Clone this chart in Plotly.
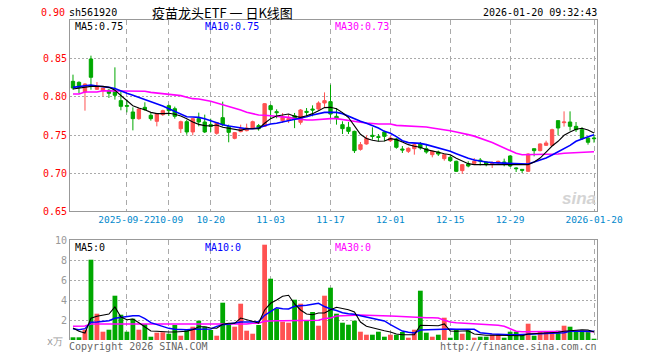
import plotly.graph_objects as go

# ---------------- data ----------------
dates = [
    "2025-09-09", "2025-09-10", "2025-09-11", "2025-09-12", "2025-09-15", "2025-09-16", "2025-09-17", "2025-09-18",
    "2025-09-19", "2025-09-22", "2025-09-23", "2025-09-24", "2025-09-25", "2025-09-26", "2025-09-29", "2025-09-30",
    "2025-10-09", "2025-10-10", "2025-10-13", "2025-10-14", "2025-10-15", "2025-10-16", "2025-10-17", "2025-10-20",
    "2025-10-21", "2025-10-22", "2025-10-23", "2025-10-24", "2025-10-27", "2025-10-28", "2025-10-29", "2025-10-30",
    "2025-10-31", "2025-11-03", "2025-11-04", "2025-11-05", "2025-11-06", "2025-11-07", "2025-11-10", "2025-11-11",
    "2025-11-12", "2025-11-13", "2025-11-14", "2025-11-17", "2025-11-18", "2025-11-19", "2025-11-20", "2025-11-21",
    "2025-11-24", "2025-11-25", "2025-11-26", "2025-11-27", "2025-11-28", "2025-12-01", "2025-12-02", "2025-12-03",
    "2025-12-04", "2025-12-05", "2025-12-08", "2025-12-09", "2025-12-10", "2025-12-11", "2025-12-12", "2025-12-15",
    "2025-12-16", "2025-12-17", "2025-12-18", "2025-12-19", "2025-12-22", "2025-12-23", "2025-12-24", "2025-12-25",
    "2025-12-26", "2025-12-29", "2025-12-30", "2025-12-31", "2026-01-05", "2026-01-06", "2026-01-07", "2026-01-08",
    "2026-01-09", "2026-01-12", "2026-01-13", "2026-01-14", "2026-01-15", "2026-01-16", "2026-01-19", "2026-01-20",
]

open_ = [
    0.8206, 0.8193, 0.8066, 0.8500, 0.8101, 0.8083, 0.8088, 0.8070, 0.7952, 0.7888, 0.7803, 0.7715, 0.7864, 0.7759, 0.7680, 0.7768,
    0.7886, 0.7846, 0.7583, 0.7675, 0.7540, 0.7715, 0.7671, 0.7636, 0.7522, 0.7728, 0.7610, 0.7456, 0.7544, 0.7557, 0.7592, 0.7623,
    0.7614, 0.7886, 0.7807, 0.7689, 0.7693, 0.7754, 0.7667, 0.7811, 0.7842, 0.7842, 0.7921, 0.7939, 0.7746, 0.7636, 0.7601, 0.7548,
    0.7311, 0.7382, 0.7496, 0.7478, 0.7540, 0.7425, 0.7447, 0.7316, 0.7285, 0.7320, 0.7386, 0.7320, 0.7241, 0.7276, 0.7189, 0.7206,
    0.7154, 0.7031, 0.7118, 0.7127, 0.7171, 0.7145, 0.7123, 0.7132, 0.7145, 0.7224, 0.7066, 0.7048, 0.7022, 0.7320, 0.7294, 0.7364,
    0.7364, 0.7689, 0.7662, 0.7671, 0.7614, 0.7570, 0.7461, 0.7461,
]
high = [
    0.8294, 0.8206, 0.8180, 0.8544, 0.8197, 0.8120, 0.8105, 0.8390, 0.8075, 0.7965, 0.7864, 0.7855, 0.7930, 0.7790, 0.7790, 0.7833,
    0.7900, 0.7873, 0.7689, 0.7700, 0.7724, 0.7794, 0.7768, 0.7715, 0.7671, 0.7939, 0.7636, 0.7540, 0.7636, 0.7649, 0.7689, 0.7645,
    0.7920, 0.7900, 0.7838, 0.7789, 0.7768, 0.7790, 0.7842, 0.7855, 0.7890, 0.7943, 0.8061, 0.8162, 0.7855, 0.7680, 0.7671, 0.7557,
    0.7408, 0.7496, 0.7601, 0.7513, 0.7557, 0.7487, 0.7460, 0.7355, 0.7338, 0.7395, 0.7408, 0.7382, 0.7294, 0.7294, 0.7250, 0.7232,
    0.7162, 0.7118, 0.7154, 0.7197, 0.7197, 0.7154, 0.7154, 0.7162, 0.7189, 0.7232, 0.7075, 0.7048, 0.7259, 0.7320, 0.7390, 0.7425,
    0.7583, 0.7689, 0.7811, 0.7811, 0.7671, 0.7601, 0.7469, 0.7504,
]
low = [
    0.8096, 0.8050, 0.7820, 0.8096, 0.8092, 0.8010, 0.7987, 0.7965, 0.7825, 0.7798, 0.7561, 0.7700, 0.7820, 0.7689, 0.7614, 0.7750,
    0.7750, 0.7715, 0.7526, 0.7504, 0.7496, 0.7614, 0.7526, 0.7540, 0.7504, 0.7614, 0.7404, 0.7443, 0.7535, 0.7548, 0.7583, 0.7557,
    0.7605, 0.7715, 0.7720, 0.7658, 0.7658, 0.7590, 0.7636, 0.7746, 0.7746, 0.7829, 0.7855, 0.7715, 0.7636, 0.7513, 0.7513, 0.7263,
    0.7294, 0.7373, 0.7439, 0.7417, 0.7417, 0.7408, 0.7320, 0.7263, 0.7263, 0.7241, 0.7307, 0.7254, 0.7206, 0.7224, 0.7162, 0.7145,
    0.7013, 0.6987, 0.7075, 0.7110, 0.7100, 0.7088, 0.7066, 0.7110, 0.7088, 0.7079, 0.7013, 0.7000, 0.7013, 0.7219, 0.7285, 0.7355,
    0.7355, 0.7496, 0.7610, 0.7557, 0.7540, 0.7434, 0.7373, 0.7399,
]
close = [
    0.8118, 0.8127, 0.8171, 0.8259, 0.8145, 0.8118, 0.8048, 0.8022, 0.7877, 0.7879, 0.7715, 0.7842, 0.7833, 0.7715, 0.7776, 0.7820,
    0.7820, 0.7746, 0.7675, 0.7540, 0.7715, 0.7671, 0.7540, 0.7614, 0.7662, 0.7636, 0.7535, 0.7531, 0.7583, 0.7592, 0.7675, 0.7583,
    0.7912, 0.7833, 0.7794, 0.7732, 0.7715, 0.7715, 0.7829, 0.7798, 0.7829, 0.7921, 0.7952, 0.7776, 0.7715, 0.7583, 0.7548, 0.7294,
    0.7373, 0.7456, 0.7482, 0.7469, 0.7482, 0.7460, 0.7338, 0.7303, 0.7325, 0.7373, 0.7329, 0.7276, 0.7285, 0.7250, 0.7241, 0.7162,
    0.7022, 0.7110, 0.7092, 0.7154, 0.7158, 0.7110, 0.7136, 0.7154, 0.7132, 0.7092, 0.7057, 0.7035, 0.7250, 0.7294, 0.7382, 0.7395,
    0.7570, 0.7592, 0.7671, 0.7614, 0.7570, 0.7452, 0.7404, 0.7452,
]

ma5 = [
    0.8105, 0.8118, 0.8136, 0.8140, 0.8140, 0.8140, 0.8127, 0.8090, 0.8020, 0.7950, 0.7885, 0.7855, 0.7833, 0.7798, 0.7781, 0.7781,
    0.7785, 0.7772, 0.7750, 0.7715, 0.7671, 0.7640, 0.7623, 0.7618, 0.7632, 0.7601, 0.7588, 0.7566, 0.7561, 0.7583, 0.7583, 0.7583,
    0.7654, 0.7715, 0.7750, 0.7763, 0.7776, 0.7746, 0.7732, 0.7754, 0.7781, 0.7820, 0.7860, 0.7864, 0.7846, 0.7794, 0.7730, 0.7620,
    0.7510, 0.7455, 0.7430, 0.7417, 0.7421, 0.7452, 0.7439, 0.7408, 0.7373, 0.7351, 0.7338, 0.7307, 0.7285, 0.7272, 0.7254, 0.7241,
    0.7193, 0.7154, 0.7123, 0.7110, 0.7110, 0.7110, 0.7114, 0.7118, 0.7118, 0.7114, 0.7110, 0.7110, 0.7110, 0.7145, 0.7197, 0.7276,
    0.7355, 0.7417, 0.7496, 0.7540, 0.7575, 0.7588, 0.7566, 0.7526,
]
ma10 = [
    0.8127, 0.8140, 0.8154, 0.8158, 0.8145, 0.8140, 0.8127, 0.8110, 0.8075, 0.8048, 0.8022, 0.7996, 0.7965, 0.7943, 0.7912, 0.7882,
    0.7846, 0.7811, 0.7768, 0.7741, 0.7737, 0.7732, 0.7715, 0.7689, 0.7654, 0.7636, 0.7618, 0.7605, 0.7596, 0.7583, 0.7583, 0.7592,
    0.7623, 0.7645, 0.7654, 0.7671, 0.7680, 0.7697, 0.7719, 0.7741, 0.7763, 0.7785, 0.7798, 0.7798, 0.7798, 0.7781, 0.7746, 0.7706,
    0.7680, 0.7654, 0.7627, 0.7592, 0.7548, 0.7522, 0.7478, 0.7425, 0.7400, 0.7395, 0.7390, 0.7373, 0.7351, 0.7333, 0.7307, 0.7285,
    0.7254, 0.7219, 0.7193, 0.7171, 0.7154, 0.7145, 0.7136, 0.7132, 0.7127, 0.7123, 0.7118, 0.7114, 0.7118, 0.7145, 0.7171, 0.7197,
    0.7237, 0.7276, 0.7320, 0.7364, 0.7417, 0.7452, 0.7478, 0.7504,
]
ma30 = [
    0.8040, 0.8040, 0.8066, 0.8066, 0.8066, 0.8083, 0.8083, 0.8083, 0.8083, 0.8079, 0.8079, 0.8079, 0.8075, 0.8061, 0.8053, 0.8044,
    0.8040, 0.8035, 0.8018, 0.7996, 0.7978, 0.7974, 0.7961, 0.7943, 0.7921, 0.7899, 0.7873, 0.7855, 0.7829, 0.7798, 0.7776, 0.7763,
    0.7759, 0.7754, 0.7750, 0.7741, 0.7732, 0.7715, 0.7702, 0.7697, 0.7697, 0.7702, 0.7715, 0.7715, 0.7715, 0.7702, 0.7684, 0.7680,
    0.7667, 0.7658, 0.7649, 0.7645, 0.7645, 0.7645, 0.7627, 0.7623, 0.7614, 0.7610, 0.7610, 0.7605, 0.7592, 0.7583, 0.7570, 0.7555,
    0.7540, 0.7526, 0.7505, 0.7485, 0.7460, 0.7430, 0.7400, 0.7365, 0.7330, 0.7295, 0.7260, 0.7241, 0.7241, 0.7241, 0.7241, 0.7241,
    0.7241, 0.7250, 0.7259, 0.7263, 0.7268, 0.7272, 0.7276, 0.7280,
]

volume = [
    0.27, 0.27, 1.03, 8.03, 2.63, 0.83, 1.03, 4.43, 2.53, 0.83, 2.13, 1.03, 1.60, 0.33, 0.73, 0.77,
    0.63, 1.50, 0.43, 1.10, 1.33, 1.93, 1.33, 1.00, 0.43, 3.73, 1.60, 1.33, 3.63, 0.93, 0.63, 1.50,
    9.53, 6.13, 3.13, 1.83, 1.73, 4.03, 3.63, 2.00, 2.80, 1.43, 4.43, 5.23, 2.63, 1.73, 1.53, 1.93,
    0.83, 0.53, 0.53, 0.83, 0.33, 0.53, 0.53, 0.80, 0.23, 1.03, 4.93, 0.73, 0.33, 0.53, 2.23, 0.23,
    1.03, 0.63, 0.97, 0.23, 0.33, 0.33, 0.53, 0.53, 0.23, 0.83, 0.83, 0.53, 1.63, 0.43, 0.83, 0.83,
    0.83, 0.93, 1.43, 1.33, 0.93, 0.93, 0.93, 0.13,
]
vma5 = [
    1.20, 0.87, 0.70, 2.17, 2.37, 2.50, 2.60, 3.30, 2.30, 2.03, 2.10, 1.73, 1.27, 0.90, 0.87, 0.80,
    0.80, 0.80, 0.83, 0.87, 1.03, 1.33, 1.33, 1.20, 1.17, 1.57, 1.67, 1.67, 2.20, 2.03, 1.80, 1.70,
    3.00, 3.67, 4.00, 4.37, 4.47, 3.60, 3.00, 2.60, 2.53, 2.70, 2.70, 3.03, 3.27, 3.13, 3.03, 2.80,
    1.80, 1.37, 1.20, 1.10, 0.93, 0.80, 0.60, 0.53, 0.53, 0.53, 1.47, 1.47, 1.47, 1.43, 1.60, 0.90,
    0.87, 0.87, 0.93, 0.60, 0.50, 0.47, 0.47, 0.47, 0.43, 0.43, 0.43, 0.43, 0.60, 0.63, 0.67, 0.67,
    0.70, 0.77, 0.87, 0.93, 1.03, 1.03, 1.00, 0.80,
]
vma10 = [
    1.13, 1.03, 1.13, 1.77, 1.80, 1.83, 1.93, 2.17, 2.27, 2.37, 2.43, 2.43, 2.13, 1.73, 1.53, 1.30,
    1.17, 1.07, 1.03, 1.03, 1.07, 1.10, 1.10, 1.10, 1.37, 1.53, 1.60, 1.70, 1.80, 1.80, 1.80, 1.83,
    2.47, 2.87, 3.23, 3.13, 3.10, 3.37, 3.40, 3.47, 3.57, 3.67, 3.35, 3.10, 2.95, 2.73, 2.63, 2.57,
    2.43, 2.30, 2.17, 2.07, 1.90, 1.53, 1.20, 0.90, 0.77, 0.70, 1.00, 1.03, 1.03, 1.07, 1.13, 1.10,
    1.07, 1.07, 1.10, 1.07, 0.73, 0.63, 0.60, 0.57, 0.53, 0.53, 0.53, 0.53, 0.53, 0.60, 0.63, 0.67,
    0.70, 0.73, 0.73, 0.87, 0.90, 0.87, 0.87, 0.87,
]
vma30 = [
    1.37, 1.37, 1.40, 1.60, 1.60, 1.60, 1.60, 1.60, 1.60, 1.60, 1.60, 1.60, 1.60, 1.53, 1.53, 1.53,
    1.53, 1.53, 1.53, 1.53, 1.53, 1.53, 1.53, 1.53, 1.53, 1.60, 1.60, 1.60, 1.60, 1.60, 1.67, 1.67,
    1.87, 1.93, 1.93, 1.93, 1.93, 1.93, 1.93, 1.97, 1.97, 1.97, 2.15, 2.20, 2.40, 2.43, 2.47, 2.50,
    2.50, 2.47, 2.47, 2.43, 2.43, 2.40, 2.37, 2.33, 2.30, 2.27, 2.27, 2.23, 2.23, 2.20, 1.97, 1.80,
    1.73, 1.70, 1.67, 1.63, 1.60, 1.57, 1.53, 1.47, 1.37, 1.10, 0.87, 0.83, 0.83, 0.83, 0.80, 0.80,
    0.83, 0.83, 0.87, 0.87, 0.90, 0.90, 0.87, 0.83,
]

tick_dates = ["2025-09-22", "2025-10-09", "2025-10-20", "2025-11-03", "2025-11-17",
              "2025-12-01", "2025-12-15", "2025-12-29", "2026-01-20"]
tick_labels = ["2025-09-22", "10-09", "10-20", "11-03", "11-17", "12-01", "12-15", "12-29", "2026-01-20"]
price_ticks = [0.65, 0.70, 0.75, 0.80, 0.85]
price_tick_labels = ["0.65", "0.70", "0.75", "0.80", "0.85"]
vol_ticks = [2, 4, 6, 8, 10]
vol_tick_labels = ["2", "4", "6", "8", "10"]

# ---------------- style ----------------
W, H = 660, 360
L, R, T, B = 70, 597, 20, 340
RED = "#FF5252"
GREEN = "#00A800"
MONO = "DejaVu Sans Mono"
GRID = "#AAAAAA"
FRAME = "#999999"


def px(x):
    return (x - L) / (R - L)


def py(y):
    return (B - y) / (B - T)


fig = go.Figure()

fig.add_trace(go.Candlestick(
    x=dates, open=open_, high=high, low=low, close=close,
    xaxis="x", yaxis="y",
    increasing=dict(line=dict(color=RED, width=1), fillcolor=RED),
    decreasing=dict(line=dict(color=GREEN, width=1), fillcolor=GREEN),
    whiskerwidth=0, showlegend=False, hoverinfo="skip",
))
for arr, col, w in [(ma30, "#FF00FF", 1.6), (ma10, "#0000FF", 1.6), (ma5, "#000000", 1.1)]:
    fig.add_trace(go.Scatter(x=dates, y=arr, mode="lines", line=dict(color=col, width=w),
                             xaxis="x", yaxis="y", showlegend=False, hoverinfo="skip"))

bar_colors = [RED if c > o else GREEN for o, c in zip(open_, close)]
fig.add_trace(go.Bar(x=dates, y=volume, marker=dict(color=bar_colors, line=dict(width=0)),
                     width=0.8, xaxis="x2", yaxis="y2", showlegend=False, hoverinfo="skip"))
for arr, col, w in [(vma30, "#FF00FF", 1.6), (vma10, "#0000FF", 1.4), (vma5, "#000000", 1.1)]:
    fig.add_trace(go.Scatter(x=dates, y=arr, mode="lines", line=dict(color=col, width=w),
                             xaxis="x2", yaxis="y2", showlegend=False, hoverinfo="skip"))

main_bottom = py(211)
vol_top = py(240)

xcommon = dict(type="category", range=[-0.5, len(dates) - 0.5], tickvals=tick_dates,
               showgrid=True, gridcolor=GRID, griddash="5px,4px", gridwidth=1,
               showline=True, linecolor=FRAME, linewidth=1, ticks="", zeroline=False,
               tickangle=0, automargin=False)

fig.update_layout(
    width=W, height=H, autosize=False,
    margin=dict(l=L, r=W - R, t=T, b=H - B, pad=0, autoexpand=False),
    paper_bgcolor="white", plot_bgcolor="white",
    showlegend=False, boxgap=0.2, bargap=0.2,
    xaxis=dict(**xcommon, domain=[0, 1], anchor="y", mirror=True,
               ticktext=tick_labels, showticklabels=True,
               tickfont=dict(family=MONO, size=9.5, color="#0088CC"),
               rangeslider=dict(visible=False)),
    yaxis=dict(domain=[main_bottom, 1], anchor="x", range=[0.65, 0.9013],
               tickvals=price_ticks, ticktext=price_tick_labels,
               tickfont=dict(family=MONO, size=10, color="#FF0000"),
               showgrid=True, gridcolor=GRID, griddash="2px,2px", gridwidth=1,
               showline=True, linecolor=FRAME, mirror=True, ticks="", zeroline=False,
               automargin=False),
    xaxis2=dict(**xcommon, domain=[0, 1], anchor="y2", side="top", mirror=False,
                showticklabels=False),
    yaxis2=dict(domain=[0, vol_top], anchor="x2", range=[0, 10],
                tickvals=vol_ticks, ticktext=vol_tick_labels,
                tickfont=dict(family=MONO, size=10, color="#999999"),
                showgrid=True, gridcolor=GRID, griddash="2px,2px", gridwidth=1,
                showline=True, linecolor=FRAME, mirror=True, ticks="", zeroline=False,
                automargin=False),
)


def note(text, x, y, anchor="left", color="#000000", size=10, family=MONO):
    fig.add_annotation(text=text, x=px(x), y=py(y), xref="paper", yref="paper",
                       xanchor=anchor, yanchor="middle", showarrow=False,
                       font=dict(family=family, size=size, color=color), borderpad=0)


note("sh561920", 68, 13)
note("疫苗龙头ETF 一 日K线图", 222, 13, anchor="center", size=13, family="Noto Sans CJK SC")
note("2026-01-20 09:32:43", 598, 13, anchor="right")
note("0.90", 66, 12.5, anchor="right", color="#FF0000")
note("MA5:0.75", 74, 26)
note("MA10:0.75", 204, 26, color="#0000FF")
note("MA30:0.73", 334, 26, color="#FF00FF")
note("MA5:0", 74, 247)
note("MA10:0", 204, 247, color="#0000FF")
note("MA30:0", 334, 247, color="#FF00FF")
note("x万", 64, 341, anchor="right", color="#999999")
note("Copyright 2026 SINA.COM", 68, 346, color="#666666")
note("http://finance.sina.com.cn", 598, 346, anchor="right", color="#666666")
note("<b><i>sina</i></b>", 579, 198, anchor="center", color="#D4D4D4", size=17, family="Liberation Sans")

fig.write_html(
    "out.html",
    config={"displayModeBar": False, "staticPlot": True},
    post_script="document.body.style.margin='0';document.body.style.overflow='hidden';",
)
